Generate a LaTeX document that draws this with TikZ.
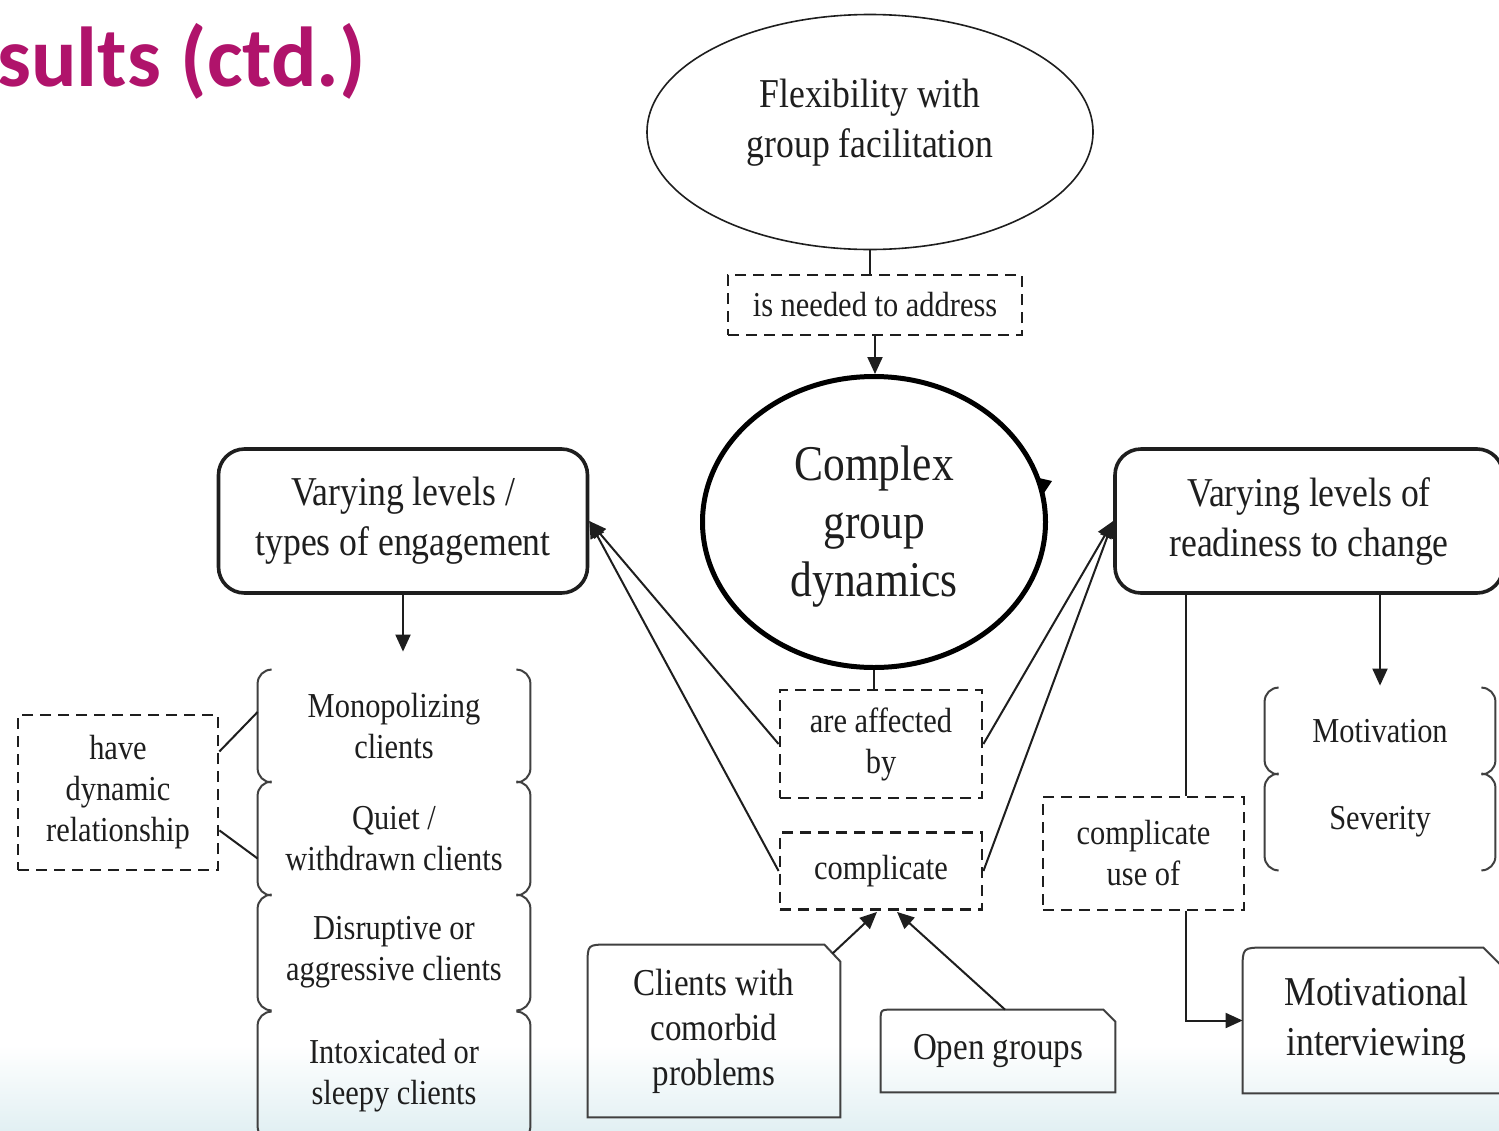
\documentclass[tikz,border=0pt]{standalone}
\usepackage{fontspec}
\setmainfont{Liberation Serif}[FakeStretch=0.87]
\newfontfamily\titlefont{Carlito}
\usetikzlibrary{shapes.geometric,arrows.meta,calc}
\definecolor{ttl}{HTML}{B0136B}
\definecolor{ink}{HTML}{1E1E1E}
\definecolor{bgb}{RGB}{226,240,243}
\tikzset{
 base/.style={inner sep=0pt, align=center, text=ink},
 fsm/.style={font=\fontsize{17.5pt}{20.5pt}\selectfont},
 fmd/.style={font=\fontsize{20.5pt}{25pt}\selectfont},
 fbt/.style={font=\fontsize{19pt}{22.5pt}\selectfont},
 fbig/.style={font=\fontsize{25pt}{29pt}\selectfont},
 dbox/.style={base, draw=ink, line width=1.4pt, dash pattern=on 5.5pt off 3.5pt},
 rbox/.style={base, draw=ink, line width=1.8pt, rounded corners=13pt},
 conn/.style={draw=ink, line width=1pt},
 arr/.style={conn, -{Triangle[length=8.5pt,width=7.5pt]}},
 brk/.style={draw=ink!85, line width=1pt, rounded corners=7pt},
 sbox/.style={draw=ink!85, line width=1pt},
}
\begin{document}
\begin{tikzpicture}[x=0.5pt,y=-0.5pt]
\useasboundingbox (0,0) rectangle (1499,1130);
\fill[white] (0,0) rectangle (1499,1130);
\shade[top color=white,bottom color=bgb] (0,1045) rectangle (1499,1130);

% title
\node[anchor=base west, inner sep=0pt, text=ttl, font={\titlefont\bfseries\fontsize{42.5pt}{45pt}\selectfont}] (title) at (-3,86) {sults (ctd.)};

% top
\node[base, draw=ink, line width=0.8pt, ellipse, minimum width=223pt, minimum height=117.5pt] (flex) at (870,132) {};
\node[base,fmd] (flext) at (870,123) {Flexibility with\\group facilitation};
\node[dbox,fsm,minimum width=147pt,minimum height=30pt] (need) at (875,305) {is needed to address};
\node[base,draw=black,line width=2.5pt,ellipse,minimum width=171.5pt,minimum height=145.5pt] (cgd) at (874,522) {};
\node[base,fbig] (cgdt) at (874,527) {Complex\\group\\dynamics};
\fill[black] (1039,478) -- (1052,481) -- (1044,493) -- cycle;

% middle
\node[dbox,fsm,minimum width=101pt,minimum height=54pt] (aff) at (881,744) {are affected\\by};
\node[dbox,fsm,minimum width=101pt,minimum height=38.5pt] (compl) at (881,871) {complicate};
\node[rbox,fmd,minimum width=184.5pt,minimum height=72pt] (eng) at (403,521) {Varying levels /\\types of engagement};
\node[rbox,fmd,minimum width=194pt,minimum height=72pt] (ready) at (1309,521) {Varying levels of\\readiness to change};

% left items
\node[base,fsm,minimum width=136pt,minimum height=56pt] (mono) at (394,726) {Monopolizing\\clients};
\node[base,fsm,minimum width=136pt,minimum height=56.5pt] (quiet) at (394,838.5) {Quiet /\\withdrawn clients};
\node[base,fsm,minimum width=136pt,minimum height=57.5pt] (disr) at (394,952.5) {Disruptive or\\aggressive clients};
\node[base,fsm,minimum width=136pt,minimum height=64pt] (intox) at (394,1076) {Intoxicated or\\sleepy clients};
\node[dbox,fsm,minimum width=100pt,minimum height=77.5pt] (dyn) at (118,792.5) {have\\dynamic\\relationship};

% right items
\node[base,fsm,minimum width=115pt,minimum height=43pt] (motiv) at (1380,731) {Motivation};
\node[base,fsm,minimum width=115pt,minimum height=48pt] (sev) at (1380,822) {Severity};
\node[dbox,fsm,minimum width=100.5pt,minimum height=56.5pt] (cuse) at (1143.5,853.5) {complicate\\use of};

% bottom
\node[base,fbt,minimum width=126pt,minimum height=86pt] (comorb) at (714,1031) {Clients with\\comorbid\\problems};
\node[base,fbt,minimum width=117pt,minimum height=41pt] (open) at (998,1051) {Open groups};
\node[base,fmd,minimum width=133.5pt,minimum height=72.5pt] (mi) at (1376.5,1020.5) {Motivational\\interviewing};

\draw[sbox] (comorb.south west) -- ($(comorb.north west)+(0,20)$) .. controls (comorb.north west) .. ($(comorb.north west)+(20,0)$) -- ($(comorb.north east)+(-16,0)$) -- ($(comorb.north east)+(0,17)$) -- (comorb.south east) -- cycle;
\draw[sbox] (open.south west) -- ($(open.north west)+(0,12)$) .. controls (open.north west) .. ($(open.north west)+(12,0)$) -- ($(open.north east)+(-12,0)$) -- ($(open.north east)+(0,12)$) -- (open.south east) -- cycle;
\draw[sbox] (mi.south west) -- ($(mi.north west)+(0,22)$) .. controls (mi.north west) .. ($(mi.north west)+(22,0)$) -- ($(mi.north east)+(-27,0)$) -- ($(mi.north east)+(0,27)$) -- (mi.south east) -- cycle;

% brackets
\foreach \n in {mono,quiet,disr,intox,motiv,sev}{
 \draw[brk] ($(\n.north west)+(14,0)$) -- (\n.north west) -- (\n.south west) -- ($(\n.south west)+(14,0)$);
 \draw[brk] ($(\n.north east)+(-14,0)$) -- (\n.north east) -- (\n.south east) -- ($(\n.south east)+(-14,0)$);
}

% connectors
\draw[conn] (flex.south) -- (flex.south |- need.north);
\draw[arr] (need.south) -- (need.south |- cgd.north);
\draw[conn] (cgd.south) -- (cgd.south |- aff.north);
\draw[arr] (aff.west) -- (eng.east);
\draw[arr] (compl.west) -- (eng.east);
\draw[arr] (aff.east) -- (ready.west);
\draw[arr] (compl.east) -- (ready.west);
\draw[arr] (eng.south) -- ($(eng.south |- mono.north)+(0,-18)$);
\draw[conn] ($(dyn.north east)!0.24!(dyn.south east)$) -- ($(mono.west)+(0,-14)$);
\draw[conn] ($(dyn.north east)!0.74!(dyn.south east)$) -- ($(quiet.west)+(0,20)$);
\draw[arr] (ready.south -| motiv.north) -- ($(motiv.north)+(0,-2)$);
\coordinate (r1) at ($(ready.south west)+(73,0)$);
\draw[conn] (r1) -- (r1 |- cuse.north);
\draw[arr] (r1 |- cuse.south) |- (mi.west);
\draw[arr] ($(comorb.north east)+(-8,9)$) -- ($(compl.south)+(-4,1)$);
\draw[arr] ($(open.north)+(7,0)$) -- ($(compl.south)+(16,1)$);
\end{tikzpicture}
\end{document}
